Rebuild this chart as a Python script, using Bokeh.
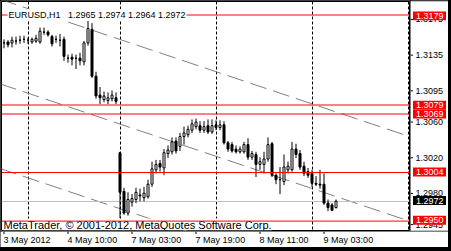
from bokeh.plotting import figure
from bokeh.models import Range1d, Span, Label, ColumnDataSource
from bokeh.layouts import column, row
from bokeh.embed import file_html
from bokeh.resources import INLINE
from bokeh.core.properties import value

# ---------------- data ----------------
opens = [1.3148, 1.3149, 1.3148, 1.3150, 1.3151, 1.3152, 1.3151, 1.3149, 1.3150, 1.3149,
         1.3160, 1.3160, 1.3155, 1.3152, 1.3151, 1.3152, 1.3131, 1.3132, 1.3131, 1.3131,
         1.3127, 1.3148, 1.3163, 1.3111, 1.3090, 1.3085, 1.3084, 1.3086, 1.3087,
         1.3026, 1.2983, 1.2959, 1.2971, 1.2974, 1.2979, 1.2976, 1.2977, 1.2991, 1.3007,
         1.3014, 1.3009, 1.3025, 1.3027, 1.3039, 1.3033, 1.3044, 1.3046, 1.3051, 1.3055,
         1.3056, 1.3051, 1.3056, 1.3049, 1.3057, 1.3054, 1.3057, 1.3037, 1.3035, 1.3030,
         1.3027, 1.3027, 1.3035, 1.3021, 1.3024, 1.3013, 1.3013, 1.3019, 1.3036, 1.3001,
         1.2996, 1.2994, 1.3007, 1.3007, 1.3030, 1.3025, 1.3011, 1.3005, 1.3003, 1.2992,
         1.2991, 1.2991, 1.2970, 1.2968, 1.2965]
highs = [1.3152, 1.3151, 1.3155, 1.3155, 1.3156, 1.3156, 1.3154, 1.3154, 1.3157, 1.3165,
         1.3165, 1.3162, 1.3157, 1.3156, 1.3158, 1.3155, 1.3135, 1.3136, 1.3135, 1.3137,
         1.3150, 1.3176, 1.3170, 1.3116, 1.3099, 1.3094, 1.3093, 1.3095, 1.3093,
         1.3027, 1.2987, 1.2982, 1.2980, 1.2987, 1.2986, 1.2988, 1.2996, 1.3016, 1.3018,
         1.3018, 1.3030, 1.3034, 1.3043, 1.3043, 1.3048, 1.3055, 1.3056, 1.3063, 1.3064,
         1.3061, 1.3061, 1.3063, 1.3063, 1.3062, 1.3062, 1.3061, 1.3039, 1.3038, 1.3034,
         1.3033, 1.3038, 1.3042, 1.3028, 1.3027, 1.3021, 1.3027, 1.3043, 1.3038, 1.3003,
         1.3010, 1.3024, 1.3016, 1.3038, 1.3036, 1.3029, 1.3016, 1.3009, 1.3007, 1.3000,
         1.3007, 1.3003, 1.2974, 1.2970, 1.2974]
lows = [1.3142, 1.3143, 1.3143, 1.3146, 1.3147, 1.3148, 1.3147, 1.3147, 1.3148, 1.3147,
        1.3157, 1.3155, 1.3144, 1.3148, 1.3144, 1.3128, 1.3126, 1.3123, 1.3119, 1.3123,
        1.3123, 1.3145, 1.3109, 1.3086, 1.3080, 1.3082, 1.3080, 1.3083, 1.3080,
        1.2953, 1.2957, 1.2956, 1.2966, 1.2970, 1.2972, 1.2972, 1.2975, 1.2988, 1.3003,
        1.3005, 1.3001, 1.3020, 1.3024, 1.3025, 1.3028, 1.3035, 1.3043, 1.3048, 1.3052,
        1.3048, 1.3048, 1.3047, 1.3047, 1.3051, 1.3051, 1.3035, 1.3027, 1.3026, 1.3025,
        1.3025, 1.3025, 1.3018, 1.3018, 1.2999, 1.3007, 1.3003, 1.3016, 1.2999, 1.2991,
        1.2980, 1.2990, 1.3003, 1.3005, 1.3020, 1.3007, 1.3000, 1.2998, 1.2988, 1.2989,
        1.2986, 1.2968, 1.2961, 1.2961, 1.2964]
closes = [1.3148, 1.3146, 1.3151, 1.3150, 1.3151, 1.3152, 1.3151, 1.3152, 1.3153, 1.3161,
          1.3160, 1.3157, 1.3147, 1.3152, 1.3151, 1.3133, 1.3131, 1.3130, 1.3131, 1.3128,
          1.3148, 1.3164, 1.3111, 1.3089, 1.3087, 1.3089, 1.3087, 1.3090, 1.3083,
          1.2982, 1.2959, 1.2974, 1.2975, 1.2982, 1.2978, 1.2981, 1.2991, 1.3008, 1.3013,
          1.3010, 1.3026, 1.3029, 1.3038, 1.3028, 1.3044, 1.3048, 1.3052, 1.3058, 1.3060,
          1.3051, 1.3055, 1.3049, 1.3056, 1.3054, 1.3057, 1.3037, 1.3030, 1.3028, 1.3027,
          1.3030, 1.3035, 1.3021, 1.3025, 1.3013, 1.3016, 1.3019, 1.3035, 1.3001, 1.2996,
          1.2996, 1.3010, 1.3011, 1.3030, 1.3024, 1.3010, 1.3003, 1.3001, 1.2992, 1.2991,
          1.2990, 1.2970, 1.2965, 1.2962, 1.2972]
bars = list(range(len(closes)))

time_tick_bars = [0, 16, 32, 48, 64, 80]
time_tick_labels = ["3 May 2012", "4 May 10:00", "7 May 03:00", "7 May 19:00", "8 May 11:00", "9 May 03:00"]
separator_bars = [6, 29, 53, 77, 101]

price_ticks = [1.3175, 1.3135, 1.3095, 1.3060, 1.3020, 1.2980, 1.2945]
price_tick_labels = ["1.3175", "1.3135", "1.3095", "1.3060", "1.3020", "1.2980", "1.2945"]
red_levels = [1.3179, 1.3079, 1.3069, 1.3004, 1.2950]
red_level_labels = ["1.3179", "1.3079", "1.3069", "1.3004", "1.2950"]
bid_price = 1.2972
bid_label = "1.2972"

channel_bars = [-1, 102]
channel_upper = [1.31965, 1.30430]
channel_mid = [1.31025, 1.29490]
channel_lower = [1.30085, 1.28550]

header_text = "EURUSD,H1\u00a0\u00a0 1.2965 1.2974 1.2964 1.2972"
copyright_text = "MetaTrader, \u00a9 2001-2012, MetaQuotes Software Corp."

# ---------------- geometry ----------------
FONT = "Liberation Sans"
PX_PER_BAR = 4.0
FIRST_BAR_PX = 3.5          # pixel of bar 0 centre
FRAME_L, FRAME_T, FRAME_W, FRAME_H = 1, 1, 408, 229
PX_PER_UNIT = 9000.0
TOP_LEVEL_PX = 14.5         # pixel of the top red level
CHART_W, CHART_H = FRAME_L + FRAME_W + 1, FRAME_T + FRAME_H + 1   # 410 x 231
SCALE_W = 38
TIME_H = 16

def bx(px):
    return (px - FIRST_BAR_PX) / PX_PER_BAR

y_top = red_levels[0] + (TOP_LEVEL_PX - FRAME_T) / PX_PER_UNIT

def py(px):
    return y_top - (px - FRAME_T) / PX_PER_UNIT

common = dict(output_backend="svg", toolbar_location=None,
              x_axis_location=None, y_axis_location=None,
              background_fill_color="white", border_fill_color="white")

# ---------------- main chart ----------------
p = figure(width=CHART_W, height=CHART_H,
           x_range=Range1d(bx(FRAME_L), bx(FRAME_L + FRAME_W)),
           y_range=Range1d(py(FRAME_T + FRAME_H), py(FRAME_T)),
           min_border_left=FRAME_L, min_border_top=FRAME_T, min_border_right=1, min_border_bottom=1,
           **common)
p.outline_line_color = "black"
p.grid.visible = False

p.vspan(x=separator_bars, line_color="black", line_dash="3 2", line_width=1)
for ys in (channel_upper, channel_mid, channel_lower):
    p.line(channel_bars, ys, line_color="#808080", line_dash="17 7", line_width=1)
p.hspan(y=[bid_price], line_color="#C0C0C0", line_width=1)

src = ColumnDataSource(dict(
    x=bars, o=opens, h=highs, l=lows, c=closes,
    top=[max(a, b) for a, b in zip(opens, closes)],
    bottom=[min(a, b) for a, b in zip(opens, closes)],
    fill=["white" if c >= o else "black" for o, c in zip(opens, closes)],
))
p.segment(x0="x", x1="x", y0="l", y1="h", source=src, line_color="black", line_width=1)
p.vbar(x="x", width=0.5, top="top", bottom="bottom", source=src,
       fill_color="fill", line_color="black", line_width=1)

p.add_layout(Label(x=bx(3), y=py(FRAME_T + FRAME_H), text=copyright_text, text_font=FONT,
                   text_font_size="11px", text_color="black", text_baseline="bottom",
                   text_align="left", background_fill_color="white", padding=0))
for lv in red_levels:
    p.add_layout(Span(location=lv, dimension="width", line_color="#FF0000", line_width=1))
p.add_layout(Label(x=bx(7), y=py(14.5), text=header_text, text_font=FONT, text_font_size="9px",
                   text_color="black", text_baseline="alphabetic", text_align="left",
                   background_fill_color="white", padding=1))

# ---------------- price scale ----------------
X0 = CHART_W
s = figure(width=SCALE_W, height=CHART_H, x_range=Range1d(X0, X0 + SCALE_W),
           y_range=Range1d(py(CHART_H), py(0)), min_border=0, **common)
s.outline_line_color = None
s.grid.visible = False
s.segment(x0=[X0] * len(price_ticks), x1=[X0 + 2.5] * len(price_ticks),
          y0=price_ticks, y1=price_ticks, line_color="black", line_width=1)
s.text(x=[X0 + 5] * len(price_ticks), y=price_ticks, text=price_tick_labels,
       text_font=value(FONT), text_font_size="9px", text_color="black",
       text_baseline="middle", text_align="left")
half = 4.5 / PX_PER_UNIT
box_l, box_r = X0 + 2.5, X0 + 35.5
s.quad(left=box_l, right=box_r, top=[v + half for v in red_levels], bottom=[v - half for v in red_levels],
       fill_color="#FF0000", line_color=None)
s.quad(left=box_l, right=box_r, top=[bid_price + half], bottom=[bid_price - half],
       fill_color="black", line_color=None)
s.text(x=[X0 + 5.5] * len(red_levels), y=red_levels, text=red_level_labels,
       text_font=value(FONT), text_font_size="9px", text_color="white",
       text_baseline="middle", text_align="left")
s.text(x=[X0 + 5.5], y=[bid_price], text=[bid_label],
       text_font=value(FONT), text_font_size="9px", text_color="white",
       text_baseline="middle", text_align="left")

# ---------------- time scale ----------------
full_w = CHART_W + SCALE_W
t = figure(width=full_w, height=TIME_H, x_range=Range1d(bx(0), bx(full_w)),
           y_range=Range1d(TIME_H, 0), min_border=0, **common)
t.outline_line_color = None
t.grid.visible = False
t.segment(x0=time_tick_bars, x1=time_tick_bars, y0=[0] * len(time_tick_bars),
          y1=[2.5] * len(time_tick_bars), line_color="black", line_width=1)
t.text(x=[b - 0.1 for b in time_tick_bars], y=[3.5] * len(time_tick_bars), text=time_tick_labels,
       text_font=value(FONT), text_font_size="9px", text_color="black",
       text_baseline="top", text_align="left")

layout = column(row(p, s), t, width=451, height=251, styles={"background-color": "black"})
open("out.html", "w").write(file_html(layout, INLINE))
